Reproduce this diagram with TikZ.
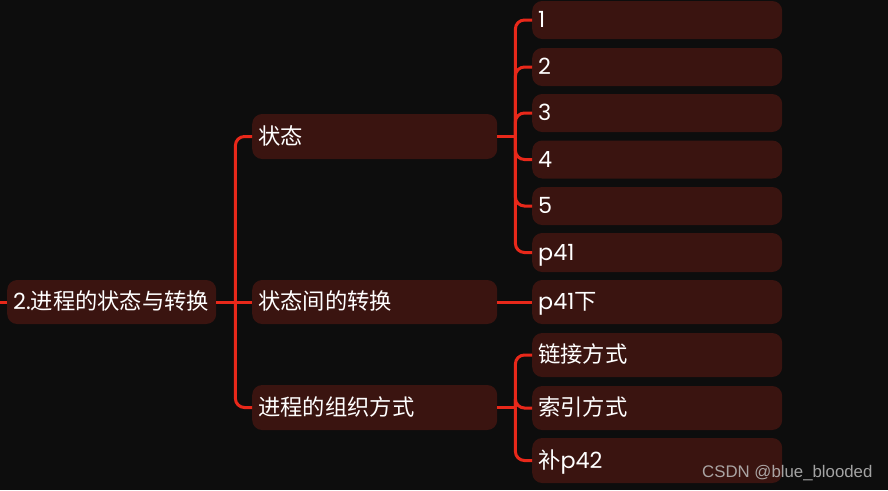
\documentclass[tikz,border=0pt]{standalone}
\usepackage{fontspec}
\setmainfont{Poppins}
\newfontfamily\cjk{Noto Sans CJK SC}
\newfontfamily\wmfont{Liberation Sans}
\definecolor{bgc}{RGB}{13,13,13}
\definecolor{boxc}{RGB}{58,20,16}
\definecolor{linec}{RGB}{232,40,26}
\definecolor{wmc}{RGB}{190,190,190}
\tikzset{
  box/.style={fill=boxc, rounded corners=10pt, anchor=west, text=white,
    font=\fontsize{22.3}{26}\selectfont, inner xsep=6pt, inner ysep=0pt,
    align=left, text height=15.5pt, text depth=0pt},
  rootbox/.style={box, text width=197pt, minimum height=#1},
  midbox/.style={box, text width=233pt, minimum height=#1},
  leafbox/.style={box, text width=238pt, minimum height=#1},
  conn/.style={draw=linec, line width=3pt},
  curvedconn/.style={conn, rounded corners=9pt}
}
\begin{document}
\begin{tikzpicture}[x=1pt,y=-1pt]
\fill[bgc] (0,0) rectangle (888,490);
\useasboundingbox (0,0) rectangle (888,490);

% root
\node[rootbox=44pt] (root) at (7,302) {2.{\cjk 进程的状态与转换}};
% level 1
\node[midbox=45pt] (s1) at (252,136.5) {{\cjk 状态}};
\node[midbox=44pt] (s2) at (252,302) {{\cjk 状态间的转换}};
\node[midbox=45pt] (s3) at (252,407.5) {{\cjk 进程的组织方式}};
% level 2
\node[leafbox=38pt] (c1) at (532,20) {1};
\node[leafbox=38pt] (c2) at (532,67) {2};
\node[leafbox=38pt] (c3) at (532,113) {3};
\node[leafbox=38pt] (c4) at (532,159.5) {4};
\node[leafbox=38pt] (c5) at (532,206) {5};
\node[leafbox=39pt] (c6) at (532,252.5) {p41};
\node[leafbox=44pt] (d1) at (532,302) {p41{\cjk 下}};
\node[leafbox=44pt] (e1) at (532,355) {{\cjk 链接方式}};
\node[leafbox=44pt] (e2) at (532,408) {{\cjk 索引方式}};
\node[leafbox=45pt] (e3) at (532,460.5) {{\cjk 补}p42};

% connectors
\coordinate (lstub) at (0,302);
\draw[conn] (lstub) -- (root.west);
\coordinate (j0) at ([xshift=19pt]root.east);
\draw[conn] (root.east) -- (s2.west);
\draw[curvedconn] (j0) |- (s1.west);
\draw[curvedconn] (j0) |- (s3.west);

\coordinate (j1) at ([xshift=18pt]s1.east);
\draw[conn] (s1.east) -- (j1);
\foreach \c in {c1,c2,c3,c4,c5,c6}{\draw[curvedconn] (j1) |- (\c.west);}

\draw[conn] (s2.east) -- (d1.west);

\coordinate (j3) at ([xshift=18pt]s3.east);
\draw[conn] (s3.east) -- (j3);
\foreach \c in {e1,e2,e3}{\draw[curvedconn] (j3) |- (\c.west);}

% watermark
\node[anchor=base west, inner sep=0pt, text=wmc, opacity=0.85,
  font=\wmfont\fontsize{16.8}{20}\selectfont] (wm) at (702,477) {CSDN @blue\_blooded};
\end{tikzpicture}
\end{document}
